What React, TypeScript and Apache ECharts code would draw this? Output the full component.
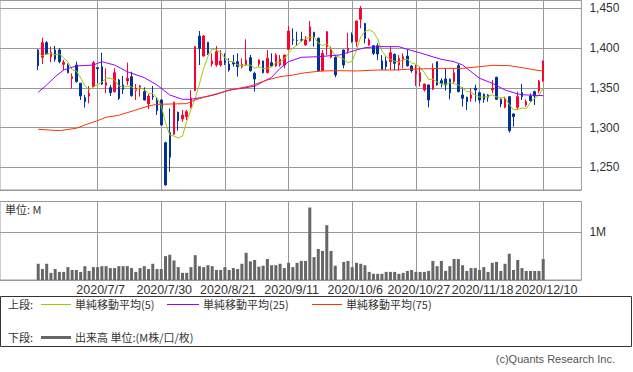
import { useEffect, useRef } from 'react';
import * as echarts from 'echarts';

// Trading days shown (2020/6/17 .. 2020/12/10); 10/1 had no trading (TSE outage)
const dates: string[] = [
  '2020/6/17','2020/6/18','2020/6/19','2020/6/22','2020/6/23','2020/6/24','2020/6/25','2020/6/26','2020/6/29','2020/6/30',
  '2020/7/1','2020/7/2','2020/7/3','2020/7/6','2020/7/7','2020/7/8','2020/7/9','2020/7/10','2020/7/13','2020/7/14',
  '2020/7/15','2020/7/16','2020/7/17','2020/7/20','2020/7/21','2020/7/22','2020/7/27','2020/7/28','2020/7/29','2020/7/30',
  '2020/7/31','2020/8/3','2020/8/4','2020/8/5','2020/8/6','2020/8/7','2020/8/11','2020/8/12','2020/8/13','2020/8/14',
  '2020/8/17','2020/8/18','2020/8/19','2020/8/20','2020/8/21','2020/8/24','2020/8/25','2020/8/26','2020/8/27','2020/8/28',
  '2020/8/31','2020/9/1','2020/9/2','2020/9/3','2020/9/4','2020/9/7','2020/9/8','2020/9/9','2020/9/10','2020/9/11',
  '2020/9/14','2020/9/15','2020/9/16','2020/9/17','2020/9/18','2020/9/23','2020/9/24','2020/9/25','2020/9/28','2020/9/29',
  '2020/9/30','2020/10/1','2020/10/2','2020/10/5','2020/10/6','2020/10/7','2020/10/8','2020/10/9','2020/10/12','2020/10/13',
  '2020/10/14','2020/10/15','2020/10/16','2020/10/19','2020/10/20','2020/10/21','2020/10/22','2020/10/23','2020/10/26','2020/10/27',
  '2020/10/28','2020/10/29','2020/10/30','2020/11/2','2020/11/4','2020/11/5','2020/11/6','2020/11/9','2020/11/10','2020/11/11',
  '2020/11/12','2020/11/13','2020/11/16','2020/11/17','2020/11/18','2020/11/19','2020/11/20','2020/11/24','2020/11/25','2020/11/26',
  '2020/11/27','2020/11/30','2020/12/1','2020/12/2','2020/12/3','2020/12/4','2020/12/7','2020/12/8','2020/12/9','2020/12/10',
];

const tickLabels = ['2020/7/7', '2020/7/30', '2020/8/21', '2020/9/11', '2020/10/6', '2020/10/27', '2020/11/18', '2020/12/10'];

// [open, close, low, high]
const ohlc: (number[] | null)[] = [
  [1397.6,1377.9,1372.4,1398.5],[1388.4,1406.8,1380.0,1413.1],[1406.8,1392.6,1392.0,1408.9],[1389.2,1394.7,1382.1,1401.8],[1397.6,1385.9,1382.9,1402.6],
  [1397.6,1382.9,1380.8,1399.7],[1379.6,1382.1,1371.6,1385.0],[1378.7,1369.1,1368.2,1380.8],[1361.5,1364.0,1348.9,1368.2],[1378.7,1357.8,1356.5,1382.9],
  [1355.7,1339.7,1334.7,1356.0],[1337.6,1332.6,1325.1,1341.0],[1339.7,1343.1,1330.5,1352.3],[1351.5,1381.7,1350.6,1383.8],[1375.4,1374.1,1355.7,1375.8],
  [1376.6,1354.8,1353.6,1394.2],[1353.1,1356.5,1343.1,1374.5],[1350.2,1343.9,1339.7,1353.6],[1345.2,1369.1,1343.9,1374.5],[1359.9,1336.8,1334.7,1361.1],
  [1353.6,1348.1,1342.2,1364.9],[1358.6,1361.9,1353.6,1381.7],[1364.0,1340.1,1338.9,1370.3],[1346.4,1349.4,1334.7,1354.8],[1349.4,1352.3,1338.9,1353.6],
  [1345.2,1334.7,1334.0,1350.6],[1329.7,1339.7,1323.0,1342.2],[1339.3,1338.5,1334.7,1352.3],[1333.9,1321.3,1315.8,1338.1],[1334.7,1303.2,1302.5,1335.5],
  [1281.0,1227.8,1226.9,1282.3],[1293.6,1262.6,1244.5,1324.2],[1291.5,1331.8,1290.7,1332.6],[1319.2,1308.7,1296.1,1320.0],[1310.8,1315.8,1307.4,1322.1],
  [1313.7,1320.0,1309.5,1322.1],[1325.5,1336.8,1324.2,1347.3],[1346.4,1401.8,1346.0,1402.6],[1415.2,1399.7,1378.7,1421.5],[1390.0,1415.2,1389.2,1416.5],
  [1407.2,1393.4,1391.3,1407.5],[1380.0,1383.8,1376.6,1393.4],[1378.7,1395.5,1376.6,1402.6],[1378.7,1383.8,1376.6,1397.6],[1383.8,1381.7,1378.7,1393.4],
  [1380.0,1372.4,1370.3,1387.1],[1381.7,1380.0,1376.6,1391.3],[1382.9,1376.6,1364.0,1393.4],[1376.6,1379.6,1374.5,1387.1],[1378.7,1385.0,1377.9,1411.0],
  [1388.0,1371.6,1370.3,1391.3],[1368.2,1361.1,1345.2,1370.3],[1379.6,1385.0,1376.6,1385.9],[1383.8,1369.1,1368.2,1384.2],[1369.1,1387.1,1368.2,1397.6],
  [1381.7,1377.5,1376.6,1393.4],[1377.5,1391.3,1376.6,1393.4],[1378.7,1385.9,1376.6,1391.3],[1378.7,1391.3,1374.5,1391.6],[1398.4,1421.5,1397.6,1427.8],
  [1410.5,1410.0,1403.9,1424.8],[1410.0,1409.5,1403.9,1420.6],[1410.4,1410.0,1408.1,1420.6],[1403.9,1410.2,1403.0,1415.2],[1409.3,1426.9,1408.1,1434.1],
  [1419.8,1413.5,1401.8,1420.6],[1412.3,1371.6,1370.3,1413.5],[1371.6,1393.4,1370.8,1397.6],[1401.8,1420.6,1391.3,1421.5],[1388.4,1397.6,1387.1,1401.8],
  [1388.4,1366.1,1363.2,1391.3],null,[1397.6,1378.7,1374.5,1398.0],[1396.8,1399.7,1393.4,1419.4],[1416.5,1408.1,1406.8,1419.8],
  [1408.1,1434.1,1401.8,1434.5],[1436.2,1450.0,1424.8,1452.9],[1431.1,1412.3,1406.0,1431.5],[1403.9,1410.2,1403.0,1412.3],[1403.0,1393.4,1391.3,1403.9],
  [1403.0,1392.6,1385.0,1406.0],[1383.8,1373.3,1372.4,1391.3],[1383.8,1376.6,1372.4,1389.2],[1382.9,1394.2,1372.4,1401.8],[1392.1,1380.8,1372.4,1393.4],
  [1378.7,1387.1,1371.6,1391.3],[1385.0,1389.2,1374.5,1393.4],[1390.0,1377.9,1376.6,1398.4],[1377.5,1371.6,1369.1,1378.7],[1367.4,1371.6,1352.3,1378.7],
  [1357.8,1369.1,1351.5,1376.6],[1347.3,1354.8,1345.2,1355.0],[1353.6,1334.7,1325.5,1354.0],[1348.1,1374.5,1347.3,1380.8],[1382.9,1353.6,1352.7,1383.2],
  [1359.0,1355.7,1350.6,1361.9],[1361.1,1353.6,1346.4,1374.5],[1360.7,1343.9,1335.5,1361.9],[1357.8,1369.1,1355.7,1373.7],[1377.9,1345.2,1344.3,1380.8],
  [1341.0,1336.8,1326.3,1350.6],[1338.1,1332.6,1322.1,1338.9],[1336.8,1341.0,1332.6,1349.4],[1349.4,1347.3,1332.6,1354.0],[1343.9,1334.7,1330.5,1345.2],
  [1341.8,1335.5,1331.3,1343.1],[1341.0,1338.1,1332.6,1342.0],[1347.3,1349.4,1343.1,1359.9],[1363.2,1335.5,1334.7,1364.0],[1335.5,1329.7,1325.5,1336.8],
  [1325.5,1335.5,1324.2,1338.9],[1338.9,1296.1,1293.6,1339.7],[1317.1,1313.7,1301.2,1318.0],[1325.5,1338.9,1322.1,1345.2],[1343.9,1338.9,1334.7,1354.8],
  [1328.4,1332.6,1326.3,1335.5],[1339.7,1333.9,1332.6,1343.1],[1345.2,1339.7,1328.4,1346.4],[1346.4,1358.6,1343.1,1359.9],[1358.6,1383.8,1357.8,1384.2],
];

// volume in millions of shares
const volume: (number | null)[] = [
  0.34,0.23,0.34,0.15,0.23,0.17,0.17,0.27,0.21,0.21,
  0.17,0.29,0.19,0.27,0.27,0.29,0.29,0.25,0.25,0.29,
  0.29,0.29,0.25,0.17,0.25,0.29,0.23,0.34,0.23,0.23,
  0.50,0.53,0.41,0.27,0.15,0.15,0.27,0.52,0.29,0.27,
  0.31,0.29,0.21,0.21,0.27,0.21,0.25,0.23,0.34,0.57,
  0.39,0.42,0.28,0.30,0.44,0.31,0.31,0.34,0.25,0.36,
  0.27,0.36,0.40,0.40,1.52,0.48,0.65,0.61,1.15,0.61,
  0.30,null,0.38,0.40,0.27,0.36,0.34,0.31,0.17,0.13,
  0.13,0.13,0.17,0.17,0.17,0.13,0.15,0.19,0.21,0.17,
  0.17,0.17,0.19,0.40,0.29,0.40,0.19,0.29,0.44,0.44,
  0.31,0.19,0.25,0.25,0.21,0.27,0.17,0.36,0.38,0.19,
  0.34,0.55,0.21,0.42,0.25,0.19,0.19,0.19,0.19,0.44,
];

// 5-day simple moving average, one value per day
const ma5: number[] = [
  1395.5,1390.0,1392.6,1393.0,1391.6,1392.6,1387.6,1382.9,1372.8,1371.2,
  1362.5,1352.6,1347.4,1351.0,1354.2,1357.3,1362.0,1362.2,1359.7,1352.2,
  1350.9,1352.0,1351.2,1347.3,1350.4,1347.7,1343.2,1342.9,1337.3,1327.5,
  1306.1,1290.7,1289.3,1286.8,1289.3,1307.8,1322.6,1336.6,1354.8,1374.7,
  1389.4,1398.8,1397.5,1394.3,1387.6,1383.4,1382.7,1378.9,1378.1,1378.7,
  1378.6,1374.8,1376.5,1374.4,1374.8,1376.0,1382.0,1382.2,1386.6,1393.5,
  1400.0,1403.6,1408.5,1412.2,1413.3,1414.0,1406.4,1403.1,1405.2,1399.3,
  1389.9,1388.8,1385.8,1381.6,1383.7,1397.3,1414.1,1420.8,1422.9,1420.0,
  1411.7,1396.4,1389.2,1386.0,1383.5,1382.4,1385.6,1385.8,1381.3,1379.5,
  1375.9,1369.0,1360.4,1360.9,1357.3,1354.7,1354.4,1356.3,1355.2,1353.5,
  1349.7,1345.5,1344.9,1340.6,1338.5,1338.2,1339.3,1341.0,1338.6,1337.6,
  1337.6,1329.2,1322.1,1322.8,1324.6,1324.0,1331.6,1336.8,1340.7,1349.7,
];

// 25-day and 75-day moving averages, read as [day index, value]
const ma25: [number, number][] = [
  [0,1344.3],[2,1353.6],[4,1364.0],[6,1372.5],[9,1377.5],[13,1378.7],[15,1382.9],[18,1378.7],[21,1370.3],[25,1362.8],
  [28,1353.6],[31,1341.0],[34,1335.5],[36,1335.5],[38,1337.5],[40,1339.3],[42,1341.8],[45,1347.3],[48,1349.4],[51,1352.0],
  [53,1357.8],[55,1363.2],[57,1374.5],[59,1382.9],[62,1388.4],[66,1389.2],[71,1391.3],[75,1397.6],[77,1400.5],[80,1401.8],
  [85,1401.8],[87,1398.4],[90,1394.0],[93,1389.0],[95,1385.9],[98,1382.9],[100,1378.7],[102,1370.3],[104,1362.0],[107,1355.7],
  [110,1347.3],[113,1342.2],[115,1341.0],[119,1340.1],
];

const ma75: [number, number][] = [
  [0,1297.8],[5,1296.1],[9,1299.1],[11,1303.3],[14,1308.7],[16,1312.9],[19,1315.4],[23,1322.1],[26,1327.1],[28,1329.2],
  [35,1330.1],[37,1334.7],[39,1338.1],[43,1343.9],[46,1348.1],[50,1352.3],[54,1359.9],[57,1364.0],[60,1366.1],[63,1369.1],
  [67,1371.2],[71,1371.6],[75,1371.2],[80,1372.4],[84,1372.4],[87,1373.3],[95,1374.5],[100,1374.5],[104,1376.6],[107,1378.3],
  [111,1377.9],[115,1374.5],[118,1371.6],[119,1371.6],
];

const PAD = 9;
const COLORS = {
  up: '#ff0033',
  down: '#003399',
  ma5: '#99cc00',
  ma25: '#9900ff',
  ma75: '#ff3300',
  vol: '#666666',
  grid: '#999999',
  text: '#333333',
};

export default function App() {
  const ref = useRef<HTMLDivElement>(null);

  useEffect(() => {
    document.body.style.margin = '0';
    if (!ref.current) return;
    const chart = echarts.init(ref.current, undefined, { renderer: 'svg' });

    const categories = [
      ...Array.from({ length: PAD }, (_, k) => `pre${k}`),
      ...dates,
      ...Array.from({ length: PAD }, (_, k) => `post${k}`),
    ];
    const padArr = () => Array.from({ length: PAD }, () => '-');
    const candleData = [...padArr(), ...ohlc.map((d) => (d ? d : '-')), ...padArr()];
    const volData = [...padArr(), ...volume.map((v) => (v == null ? '-' : v)), ...padArr()];
    const ma5Data = [...padArr(), ...ma5, ...padArr()];
    const ma25Data = ma25.map(([i, v]) => [i + PAD, v]);
    const ma75Data = ma75.map(([i, v]) => [i + PAD, v]);
    const isTick = (_: number, v: string) => tickLabels.includes(v);

    const plotW = 581.4;
    const jp = "'Noto Sans CJK JP', sans-serif";
    const latin = "'Liberation Sans', Arial, sans-serif";

    const xBase = (gridIndex: number, showLabel: boolean) => ({
      type: 'category',
      gridIndex,
      data: categories,
      boundaryGap: false,
      axisLine: { show: false },
      axisTick: { show: false, interval: isTick },
      axisLabel: {
        show: showLabel,
        interval: isTick,
        color: COLORS.text,
        fontSize: 12.5,
        fontFamily: latin,
        margin: 3,
        padding: [0, 0, 0, 6],
      },
      splitLine: { show: true, interval: isTick, lineStyle: { color: COLORS.grid, width: 1 } },
    });

    const txt = (x: number, y: number, text: string, extra: any = {}) => ({
      type: 'text',
      x,
      y,
      style: {
        text,
        font: `11px ${jp}`,
        fill: COLORS.text,
        align: 'left',
        verticalAlign: 'middle',
        textAlign: 'left',
        textVerticalAlign: 'middle',
        ...extra,
      },
    });

    const option: any = {
      animation: false,
      grid: [
        { left: 0, top: 0.5, width: plotW, height: 189.5, show: true, borderColor: COLORS.grid, borderWidth: 1 },
        { left: 0, top: 201.5, width: plotW, height: 78.5, show: true, borderColor: COLORS.grid, borderWidth: 1 },
      ],
      xAxis: [xBase(0, false), xBase(1, true)],
      yAxis: [
        {
          type: 'value',
          gridIndex: 0,
          position: 'right',
          min: 1221.4,
          max: 1459.9,
          splitNumber: 5,
          axisLine: { show: false },
          axisTick: { show: false },
          axisLabel: {
            color: COLORS.text,
            fontSize: 12,
            fontFamily: latin,
            margin: 8,
            showMinLabel: false,
            showMaxLabel: false,
            formatter: (v: number) => v.toLocaleString('en-US'),
          },
          splitLine: { lineStyle: { color: COLORS.grid, width: 1 } },
        },
        {
          type: 'value',
          gridIndex: 1,
          position: 'right',
          min: 0,
          max: 1.646,
          interval: 1,
          axisLine: { show: false },
          axisTick: { show: false },
          axisLabel: {
            color: COLORS.text,
            fontSize: 12,
            fontFamily: latin,
            margin: 8,
            formatter: (v: number) => (v === 1 ? '1M' : ''),
          },
          splitLine: { lineStyle: { color: COLORS.grid, width: 1 } },
        },
      ],
      series: [
        {
          type: 'candlestick',
          xAxisIndex: 0,
          yAxisIndex: 0,
          data: candleData,
          barWidth: 2,
          itemStyle: {
            color: COLORS.up,
            color0: COLORS.down,
            borderColor: COLORS.up,
            borderColor0: COLORS.down,
            borderWidth: 1,
          },
          z: 2,
        },
        {
          type: 'line',
          xAxisIndex: 0,
          yAxisIndex: 0,
          data: ma5Data,
          showSymbol: false,
          lineStyle: { color: COLORS.ma5, width: 1 },
          z: 3,
        },
        {
          type: 'line',
          xAxisIndex: 0,
          yAxisIndex: 0,
          data: ma25Data,
          showSymbol: false,
          lineStyle: { color: COLORS.ma25, width: 1 },
          z: 3,
        },
        {
          type: 'line',
          xAxisIndex: 0,
          yAxisIndex: 0,
          data: ma75Data,
          showSymbol: false,
          lineStyle: { color: COLORS.ma75, width: 1 },
          z: 3,
        },
        {
          type: 'bar',
          xAxisIndex: 1,
          yAxisIndex: 1,
          data: volData,
          barWidth: 3,
          itemStyle: { color: COLORS.vol },
        },
      ],
      graphic: [
        txt(5, 209, '単位: M'),
        {
          type: 'rect',
          shape: { x: 0.5, y: 296.5, width: 631, height: 50 },
          style: { fill: 'none', stroke: '#333', lineWidth: 1 },
        },
        txt(8, 304, '上段:'),
        { type: 'line', shape: { x1: 41, y1: 304.5, x2: 71, y2: 304.5 }, style: { stroke: COLORS.ma5, lineWidth: 1 } },
        txt(75, 304, '単純移動平均(5)'),
        { type: 'line', shape: { x1: 167, y1: 304.5, x2: 199, y2: 304.5 }, style: { stroke: COLORS.ma25, lineWidth: 1 } },
        txt(203, 304, '単純移動平均(25)'),
        { type: 'line', shape: { x1: 312, y1: 304.5, x2: 342, y2: 304.5 }, style: { stroke: COLORS.ma75, lineWidth: 1 } },
        txt(346, 304, '単純移動平均(75)'),
        txt(8, 337, '下段:'),
        { type: 'line', shape: { x1: 41, y1: 337.5, x2: 71, y2: 337.5 }, style: { stroke: COLORS.vol, lineWidth: 3 } },
        txt(75, 337, '出来高 単位:(M株/口/枚)'),
        txt(615, 359, '(c)Quants Research Inc.', { font: `11px ${latin}`, fill: '#555', align: 'right', textAlign: 'right' }),
      ],
    };

    chart.setOption(option);
    return () => chart.dispose();
  }, []);

  return <div ref={ref} style={{ width: 633, height: 372 }} />;
}
